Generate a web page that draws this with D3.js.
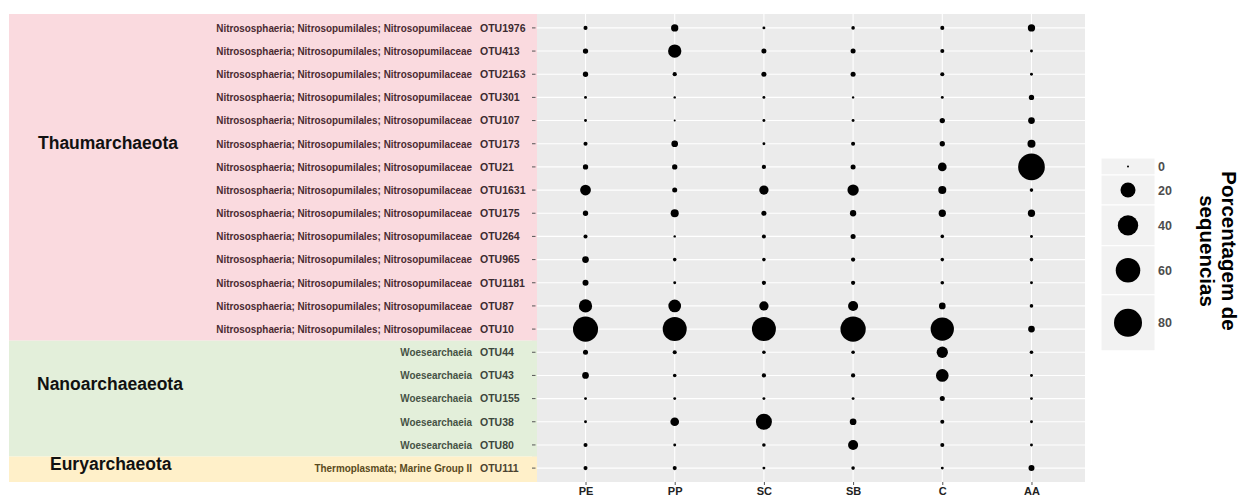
<!DOCTYPE html>
<html>
<head>
<meta charset="utf-8">
<script src="https://cdn.jsdelivr.net/npm/d3@7"></script>
<style>
  body { margin: 0; background: #ffffff; }
  svg { display: block; }
</style>
</head>
<body>
<svg id="chart" width="1243" height="496"></svg>
<script>
// ---- data ----------------------------------------------------------------
const otus = ["OTU1976","OTU413","OTU2163","OTU301","OTU107","OTU173","OTU21",
  "OTU1631","OTU175","OTU264","OTU965","OTU1181","OTU87","OTU10",
  "OTU44","OTU43","OTU155","OTU38","OTU80","OTU111"];

const nitroso = "Nitrososphaeria; Nitrosopumilales; Nitrosopumilaceae";
const taxonomy = [
  nitroso, nitroso, nitroso, nitroso, nitroso, nitroso, nitroso,
  nitroso, nitroso, nitroso, nitroso, nitroso, nitroso, nitroso,
  "Woesearchaeia", "Woesearchaeia", "Woesearchaeia", "Woesearchaeia", "Woesearchaeia",
  "Thermoplasmata; Marine Group II"];

const phyla = ["Thaumarchaeota", "Nanoarchaeaeota", "Euryarchaeota"];
const phylumCounts = [14, 5, 1];

const samples = ["PE", "PP", "SC", "SB", "C", "AA"];

// percentage of sequences per OTU (rows in the order of `otus`)
const pe = [0.5, 1.3, 1.3, 0.1, 0.1, 0.5, 1.3, 9.0, 1.3, 0.5, 2.6, 1.9, 15.1, 63.0, 1.1, 2.6, 0.1, 0.1, 0.5, 0.5];
const pp = [3.3, 15.1, 0.6, 0.02, 0.0, 2.6, 1.3, 1.1, 4.3, 0.02, 0.3, 0.1, 13.5, 57.3, 0.5, 0.3, 0.1, 5.3, 0.1, 0.5];
const sc = [0.1, 1.1, 1.1, 0.1, 0.1, 0.1, 0.6, 6.3, 1.1, 0.5, 0.3, 0.6, 6.3, 57.3, 0.3, 0.6, 0.1, 23.2, 0.3, 0.1];
const sb = [0.3, 1.1, 1.1, 0.02, 0.1, 0.5, 1.1, 10.2, 2.2, 1.1, 0.6, 0.6, 7.6, 64.2, 0.3, 0.6, 0.1, 2.6, 7.6, 0.3];
const cc = [0.5, 0.5, 0.5, 0.1, 1.3, 1.3, 5.3, 4.3, 3.3, 0.3, 0.3, 0.3, 2.6, 53.7, 10.2, 13.5, 1.1, 0.5, 0.5, 0.1];
const aa = [3.3, 0.1, 0.1, 1.3, 2.6, 4.3, 72.0, 0.3, 3.3, 0.1, 0.3, 0.1, 0.3, 2.6, 0.3, 0.1, 0.1, 0.1, 0.1, 1.9];

const sizeBreaks = [0, 20, 40, 60, 80];
const legendTitle = ["Porcentagem de", "sequencias"];

// ---- setup ---------------------------------------------------------------
const seriesBySample = { PE: pe, PP: pp, SC: sc, SB: sb, C: cc, AA: aa };
const cells = [];
samples.forEach(s => otus.forEach((o, i) => cells.push({ sample: s, otu: o, value: seriesBySample[s][i] })));

const svg = d3.select("#chart");
const panel = { left: 532, right: 1085, top: 14, bottom: 482 };

const x = d3.scalePoint().domain(samples).range([panel.left, panel.right]).padding(0.6);
const y = d3.scalePoint().domain(otus).range([panel.top, panel.bottom]).padding(0.6);
const r = d3.scaleSqrt().domain([0, 80]).range([1, 14]);

// panel background + grid
svg.append("rect")
  .attr("x", panel.left).attr("y", panel.top)
  .attr("width", panel.right - panel.left).attr("height", panel.bottom - panel.top)
  .attr("fill", "#EBEBEB");

const grid = svg.append("g").attr("stroke", "#ffffff").attr("stroke-width", 1.1);
grid.selectAll("line.h").data(otus).join("line")
  .attr("x1", panel.left).attr("x2", panel.right)
  .attr("y1", d => y(d)).attr("y2", d => y(d));
grid.selectAll("line.v").data(samples).join("line")
  .attr("y1", panel.top).attr("y2", panel.bottom)
  .attr("x1", d => x(d)).attr("x2", d => x(d));

// bubbles
svg.append("g").selectAll("circle").data(cells).join("circle")
  .attr("cx", d => x(d.sample))
  .attr("cy", d => y(d.otu))
  .attr("r", d => r(d.value))
  .attr("fill", "#000000");

// x axis (sample names)
const xAxis = svg.append("g")
  .attr("transform", `translate(0,${panel.bottom})`)
  .call(d3.axisBottom(x).tickSize(3).tickPadding(2));
xAxis.select(".domain").remove();
xAxis.selectAll(".tick line").attr("stroke", "#555");
xAxis.selectAll(".tick text")
  .attr("font-family", "'Liberation Sans', Arial, sans-serif")
  .attr("font-weight", "bold").attr("font-size", 11).attr("fill", "#222");

// phylum colour bands behind the row labels
const bandFill = ["#FADADF", "#E3EFDA", "#FFF0C9"];
const taxFill = ["#4a2a31", "#465244", "#5a4a20"];
const otuFill = ["#3b2b30", "#3c463c", "#4a4330"];
let start = 0;
const groups = phyla.map((name, gi) => {
  const first = start, last = start + phylumCounts[gi] - 1;
  start += phylumCounts[gi];
  const y0 = gi === 0 ? panel.top : (y(otus[first - 1]) + y(otus[first])) / 2;
  const y1 = gi === phyla.length - 1 ? panel.bottom : (y(otus[last]) + y(otus[last + 1])) / 2;
  return { name, gi, first, last, y0, y1 };
});

const bandLeft = 9, bandRight = 537;
svg.append("g").selectAll("rect").data(groups).join("rect")
  .attr("x", bandLeft).attr("width", bandRight - bandLeft)
  .attr("y", d => d.y0).attr("height", d => d.y1 - d.y0)
  .attr("fill", d => bandFill[d.gi]);

const groupOfRow = otus.map((o, i) => groups.find(g => i >= g.first && i <= g.last).gi);

// y tick marks
svg.append("g").selectAll("line").data(otus).join("line")
  .attr("x1", 532).attr("x2", 535.5)
  .attr("y1", d => y(d)).attr("y2", d => y(d))
  .attr("stroke", "#555").attr("stroke-width", 1);

// OTU ids
svg.append("g").selectAll("text").data(otus).join("text")
  .attr("x", 480).attr("y", d => y(d)).attr("dy", "0.36em")
  .attr("font-family", "'Liberation Sans', Arial, sans-serif")
  .attr("font-weight", "bold").attr("font-size", 10.5)
  .attr("fill", (d, i) => otuFill[groupOfRow[i]])
  .text(d => d);

// taxonomy strings, right aligned before the ids, horizontally condensed
const taxText = svg.append("g").selectAll("text").data(taxonomy).join("text")
  .attr("x", 0).attr("y", 0).attr("dy", "0.36em")
  .attr("text-anchor", "end")
  .attr("font-family", "'Liberation Sans Narrow', 'Liberation Sans', Arial, sans-serif")
  .attr("font-weight", "bold").attr("font-size", 10.5)
  .attr("fill", (d, i) => taxFill[groupOfRow[i]])
  .text(d => d);
const refWidth = taxText.nodes()[0].getComputedTextLength();
const squeeze = Math.min(1, 256 / refWidth);
taxText.attr("transform", (d, i) => `translate(472,${y(otus[i])}) scale(${squeeze},1)`);

// phylum names
const phylumPos = [{ x: 38, y: 143 }, { x: 37, y: 384 }, { x: 50, y: 464 }];
svg.append("g").selectAll("text").data(groups).join("text")
  .attr("x", d => phylumPos[d.gi].x).attr("y", d => phylumPos[d.gi].y).attr("dy", "0.36em")
  .attr("font-family", "'Liberation Sans', Arial, sans-serif")
  .attr("font-weight", "bold").attr("font-size", 17.5).attr("fill", "#111")
  .text(d => d.name);

// ---- size legend -----------------------------------------------------------
const legend = svg.append("g").attr("transform", "translate(1101,158)");
const keyW = 54;
let ky = 0;
const keys = sizeBreaks.map(v => {
  const h = Math.max(17, 4 * r(v));
  const k = { v, y: ky, h };
  ky += h;
  return k;
});
legend.selectAll("rect").data(keys).join("rect")
  .attr("x", 0).attr("y", d => d.y).attr("width", keyW).attr("height", d => d.h)
  .attr("fill", "#F2F2F2").attr("stroke", "#ffffff").attr("stroke-width", 1);
legend.selectAll("circle").data(keys).join("circle")
  .attr("cx", 27).attr("cy", d => d.y + d.h / 2).attr("r", d => r(d.v))
  .attr("fill", "#000");
legend.selectAll("text").data(keys).join("text")
  .attr("x", keyW + 3).attr("y", d => d.y + d.h / 2).attr("dy", "0.36em")
  .attr("font-family", "'Liberation Sans', Arial, sans-serif")
  .attr("font-weight", "bold").attr("font-size", 12.5).attr("fill", "#4D4D4D")
  .text(d => d.v);

const title = svg.append("text")
  .attr("transform", "translate(1222,251) rotate(90)")
  .attr("text-anchor", "middle")
  .attr("font-family", "'Liberation Sans', Arial, sans-serif")
  .attr("font-weight", "bold").attr("font-size", 20.5).attr("fill", "#000");
title.selectAll("tspan").data(legendTitle).join("tspan")
  .attr("x", 0).attr("dy", (d, i) => i === 0 ? 0 : 22)
  .text(d => d);
</script>
</body>
</html>
